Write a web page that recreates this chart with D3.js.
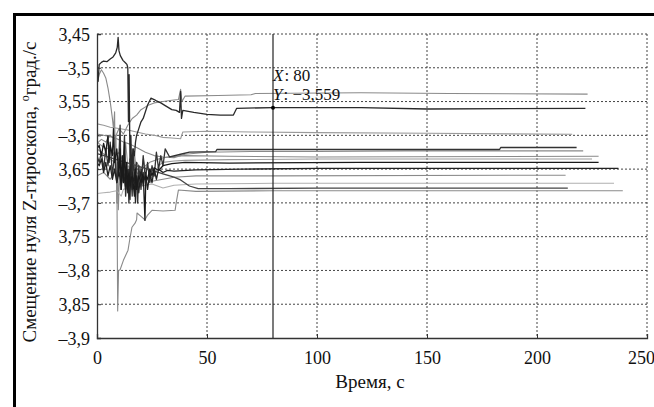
<!DOCTYPE html>
<html>
<head>
<meta charset="utf-8">
<script src="https://cdn.jsdelivr.net/npm/d3@7"></script>
<style>
    body { margin: 0; background: #fff; }
    svg text { font-family: "Liberation Serif", Tinos, "Times New Roman", Times, "DejaVu Serif", serif; fill: #111; }
</style>
</head>
<body>
<svg id="chart"></svg>
<script>

// tick labels as printed in the figure
const xTicks = [0, 50, 100, 150, 200, 250];
const yTicks = [-3.45, -3.5, -3.55, -3.6, -3.65, -3.7, -3.75, -3.8, -3.85, -3.9];
const yTickLabels = ["3,45", "\u20133,5", "3,55", "\u20133,6", "3,65", "\u20133,7", "3,75", "\u20133,8", "3,85", "\u20133,9"];

// data tip
const tipX = 80;
const tipY = -3.559;

// series [time, offset]
const sA = [[0,-3.612],[2,-3.606],[4,-3.61],[6,-3.60],[8,-3.605],[10,-3.59],[12,-3.598],[14,-3.585],[16,-3.575],[18,-3.57],[20,-3.562],[23,-3.556],[26,-3.552],[30,-3.55],[34,-3.548],[37,-3.547],[38,-3.532],[38.6,-3.55],[40,-3.542],[55,-3.541],[70,-3.540],[72,-3.538],[120,-3.537],[160,-3.538],[223,-3.539]];
const sB = [[0,-3.507],[0.5,-3.52],[1,-3.495],[2,-3.492],[3,-3.49],[4.5,-3.491],[6,-3.487],[7.3,-3.484],[8.5,-3.478],[9.2,-3.47],[9.6,-3.455],[10,-3.475],[10.6,-3.482],[11.8,-3.489],[13,-3.493],[13.6,-3.495],[14,-3.50],[14.3,-3.58],[14.6,-3.51],[15,-3.64],[15.4,-3.60],[15.8,-3.66],[16.3,-3.62],[17,-3.63],[17.5,-3.61],[18,-3.60],[19,-3.59],[20,-3.58],[21,-3.575],[22,-3.565],[23,-3.555],[24.5,-3.545],[26,-3.547],[27,-3.549],[29,-3.552],[31,-3.556],[34,-3.562],[36,-3.563],[37.5,-3.566],[38,-3.535],[38.4,-3.575],[39,-3.563],[44,-3.566],[50,-3.569],[56,-3.57],[62,-3.57],[63.5,-3.56],[80,-3.559],[120,-3.559],[150,-3.561],[222,-3.560]];
const sC = [[0,-3.583],[3,-3.585],[6,-3.588],[10,-3.59],[14,-3.592],[18,-3.595],[22,-3.598],[26,-3.60],[30,-3.603],[34,-3.604],[38,-3.605],[39,-3.595],[50,-3.594],[70,-3.595],[100,-3.596],[150,-3.597],[216,-3.5985]];
const sD = [[0,-3.63],[1,-3.64],[2,-3.625],[3,-3.65],[4,-3.62],[5,-3.645],[6,-3.61],[7,-3.66],[8,-3.625],[9,-3.67],[10,-3.63],[10.5,-3.585],[11,-3.68],[12,-3.64],[12.5,-3.60],[13,-3.69],[14,-3.65],[14.5,-3.70],[15,-3.635],[16,-3.69],[16.5,-3.62],[17,-3.66],[18,-3.64],[18.5,-3.70],[19,-3.645],[20,-3.68],[21,-3.63],[22,-3.665],[23,-3.64],[24,-3.67],[25,-3.645],[26,-3.66],[27,-3.625],[28,-3.65],[29,-3.63],[30,-3.645],[31,-3.62],[33,-3.632],[38,-3.628],[42,-3.625],[54,-3.624],[54.5,-3.621],[100,-3.621],[150,-3.621],[183,-3.621],[183.5,-3.618],[218,-3.618]];
const sE = [[0,-3.598],[3,-3.60],[6,-3.602],[9,-3.605],[12,-3.61],[15,-3.613],[18,-3.618],[22,-3.625],[26,-3.63],[30,-3.632],[35,-3.633],[40,-3.628],[50,-3.625],[70,-3.624],[100,-3.624],[140,-3.623],[221,-3.623]];
const sF = [[0,-3.525],[1,-3.51],[2,-3.503],[3,-3.508],[4,-3.515],[5,-3.53],[6,-3.55],[7,-3.575],[7.5,-3.59],[8,-3.565],[8.3,-3.66],[8.6,-3.60],[9,-3.70],[9.3,-3.64],[9.7,-3.71],[10.2,-3.66],[10.8,-3.68],[11.5,-3.65],[12.5,-3.66],[14,-3.645],[16,-3.655],[18,-3.64],[20,-3.65],[24,-3.64],[28,-3.635],[32,-3.632],[40,-3.63],[60,-3.631],[100,-3.632],[228,-3.631]];
const sG = [[0,-3.61],[2,-3.615],[4,-3.62],[6,-3.618],[8,-3.63],[10,-3.625],[12,-3.64],[13,-3.61],[14,-3.645],[16,-3.65],[17,-3.625],[18,-3.655],[20,-3.66],[21,-3.635],[23,-3.665],[26,-3.66],[28,-3.645],[30,-3.64],[35,-3.638],[40,-3.637],[60,-3.636],[100,-3.635],[225,-3.635]];
const sH = [[0,-3.62],[1,-3.615],[2,-3.63],[3,-3.612],[4,-3.625],[5,-3.60],[5.5,-3.64],[6,-3.615],[7,-3.63],[7.5,-3.59],[8,-3.64],[9,-3.62],[10,-3.66],[10.5,-3.62],[11,-3.68],[11.5,-3.63],[12,-3.67],[12.5,-3.61],[13,-3.675],[13.5,-3.64],[14,-3.685],[14.5,-3.65],[15,-3.675],[16,-3.655],[17,-3.69],[17.5,-3.65],[18,-3.68],[19,-3.66],[20,-3.67],[21,-3.655],[21.8,-3.726],[22.2,-3.66],[23,-3.665],[24,-3.65],[25,-3.66],[26,-3.648],[28,-3.652],[30,-3.645],[34,-3.642],[40,-3.64],[60,-3.641],[120,-3.64],[228,-3.64]];
const sI = [[0,-3.64],[1,-3.645],[2,-3.635],[3,-3.655],[4,-3.64],[5,-3.66],[6,-3.645],[7,-3.665],[8,-3.65],[9,-3.67],[10,-3.655],[11,-3.672],[12,-3.65],[13,-3.68],[14,-3.66],[15,-3.695],[15.5,-3.64],[16,-3.68],[17,-3.655],[17.5,-3.70],[18,-3.66],[19,-3.685],[20,-3.65],[21,-3.675],[22,-3.655],[23,-3.68],[24,-3.655],[25,-3.67],[26,-3.65],[27,-3.665],[28,-3.65],[30,-3.655],[32,-3.652],[35,-3.653],[45,-3.651],[66,-3.65],[100,-3.649],[237,-3.649]];
const sJ = [[0,-3.66],[3,-3.655],[6,-3.665],[9,-3.65],[12,-3.67],[15,-3.66],[18,-3.675],[21,-3.665],[25,-3.668],[30,-3.665],[35,-3.662],[45,-3.66],[80,-3.66],[213,-3.659]];
const sK = [[0,-3.686],[3,-3.685],[6,-3.684],[9,-3.682],[11,-3.69],[12,-3.68],[16,-3.676],[20,-3.675],[25,-3.672],[30,-3.678],[35,-3.674],[45,-3.672],[80,-3.671],[235,-3.671]];
const sM = [[0,-3.627],[5,-3.632],[10,-3.637],[15,-3.642],[20,-3.647],[25,-3.652],[30,-3.657],[35,-3.662],[38,-3.666],[42,-3.675],[46,-3.679],[60,-3.679],[100,-3.678],[214,-3.678]];
const sL = [[0,-3.62],[2,-3.625],[4,-3.63],[6,-3.635],[8,-3.64],[9,-3.645],[9.4,-3.86],[9.8,-3.80],[10.5,-3.799],[12,-3.785],[13,-3.778],[14.1,-3.77],[15,-3.752],[15.9,-3.736],[17.3,-3.73],[18,-3.725],[18.2,-3.715],[20,-3.72],[21.8,-3.725],[23,-3.718],[25,-3.711],[30,-3.712],[35.5,-3.711],[36,-3.70],[37,-3.681],[45,-3.683],[80,-3.682],[239,-3.682]];

const seriesList = [sA, sC, sE, sF, sG, sJ, sK, sL, sD, sM, sI, sH, sB];
const seriesColors = ["#8a8a8a", "#9a9a9a", "#8a8a8a", "#8a8a8a", "#9a9a9a", "#8a8a8a", "#b0b0b0", "#8a8a8a", "#333", "#444", "#222", "#1a1a1a", "#2a2a2a"];

const width = 654, height = 407;
const plotLeft = 97, plotRight = 647, plotTop = 34, plotBottom = 338;

const svg = d3.select("#chart")
    .attr("width", width)
    .attr("height", height);

svg.append("rect").attr("width", width).attr("height", height).attr("fill", "#fff");

const x = d3.scaleLinear().domain([0, 250]).range([plotLeft, plotRight]);
const y = d3.scaleLinear().domain([-3.9, -3.45]).range([plotBottom, plotTop]);

// outer frame (only top and left edges are visible)
svg.append("line").attr("x1", 13).attr("x2", width).attr("y1", 14.5).attr("y2", 14.5)
    .attr("stroke", "#000").attr("stroke-width", 3);
svg.append("line").attr("x1", 14.5).attr("x2", 14.5).attr("y1", 13).attr("y2", height)
    .attr("stroke", "#000").attr("stroke-width", 3);

// dotted grid
const grid = svg.append("g");
xTicks.slice(1).forEach(t => {
    grid.append("line")
        .attr("x1", x(t)).attr("x2", x(t)).attr("y1", plotTop).attr("y2", plotBottom)
        .attr("stroke", "#444").attr("stroke-width", 1).attr("stroke-dasharray", "2,2");
});
yTicks.slice(0, -1).forEach(t => {
    grid.append("line")
        .attr("x1", plotLeft).attr("x2", plotRight).attr("y1", y(t)).attr("y2", y(t))
        .attr("stroke", "#444").attr("stroke-width", 1).attr("stroke-dasharray", "2,2");
});

// series
svg.append("clipPath").attr("id", "plot-clip")
    .append("rect").attr("x", plotLeft).attr("y", plotTop)
    .attr("width", plotRight - plotLeft).attr("height", plotBottom - plotTop);

const line = d3.line()
    .x(d => x(d[0]))
    .y(d => y(d[1]));

const lines = svg.append("g").attr("clip-path", "url(#plot-clip)");
seriesList.forEach((s, i) => {
    lines.append("path")
        .attr("d", line(s))
        .attr("fill", "none")
        .attr("stroke", seriesColors[i])
        .attr("stroke-width", i >= 8 ? 1.3 : 1.1)
        .attr("stroke-linejoin", "round");
});

// axes
const xAxis = svg.append("g").attr("transform", `translate(0,${plotBottom})`)
    .call(d3.axisBottom(x).tickValues(xTicks).tickSize(-4).tickFormat(d3.format("d")));
const yAxis = svg.append("g").attr("transform", `translate(${plotLeft},0)`)
    .call(d3.axisLeft(y).tickValues(yTicks).tickSize(-4).tickFormat((d, i) => yTickLabels[i]));

[xAxis, yAxis].forEach(ax => {
    ax.attr("font-family", null);
    ax.select(".domain").attr("stroke", "#333").attr("stroke-width", 1.3);
    ax.selectAll(".tick line").attr("stroke", "#333");
    ax.selectAll(".tick text")
        .attr("font-size", 18)
        .attr("fill", "#111");
});
xAxis.selectAll(".tick text").attr("dy", "1.25em");
xAxis.selectAll(".tick text").filter(d => d === 250).attr("dx", -6);
yAxis.selectAll(".tick text").attr("x", -7).attr("dy", "0.35em");

// axis titles
svg.append("text")
    .attr("x", 370).attr("y", 388)
    .attr("text-anchor", "middle")
    .attr("font-size", 19)
    .text("Время, с");

const yTitle = svg.append("text")
    .attr("transform", "translate(36,192) rotate(-90)")
    .attr("text-anchor", "middle")
    .attr("font-size", 19);
yTitle.append("tspan").text("Смещение нуля Z-гироскопа, ");
yTitle.append("tspan").attr("baseline-shift", "super").attr("font-size", 12).text("o");
yTitle.append("tspan").text("град./с");

// data tip at t = 80
svg.append("line")
    .attr("x1", x(tipX)).attr("x2", x(tipX)).attr("y1", plotTop).attr("y2", plotBottom)
    .attr("stroke", "#222").attr("stroke-width", 1.2);
svg.append("circle")
    .attr("cx", x(tipX)).attr("cy", y(tipY)).attr("r", 2)
    .attr("fill", "#000");

const tip1 = svg.append("text").attr("x", x(tipX)).attr("y", 81).attr("font-size", 17);
tip1.append("tspan").attr("font-style", "italic").text("X");
tip1.append("tspan").attr("dx", 1).text(": " + tipX);
const tip2 = svg.append("text").attr("x", x(tipX)).attr("y", 100).attr("font-size", 17);
tip2.append("tspan").attr("font-style", "italic").text("Y");
tip2.append("tspan").attr("dx", 1).text(": " + d3.format(".3f")(tipY).replace("-", "\u2013").replace(".", ","));

</script>
</body>
</html>
